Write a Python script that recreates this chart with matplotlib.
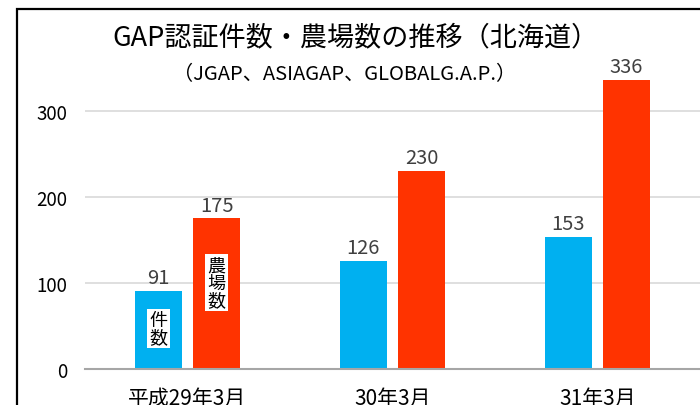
import numpy as np
import matplotlib.pyplot as plt
from matplotlib.patches import Rectangle

plt.rcParams['font.family'] = ['Noto Sans CJK JP', 'DejaVu Sans']

categories = ['平成29年3月', '30年3月', '31年3月']
kensu = [91, 126, 153]       # 件数
nojo = [175, 230, 336]       # 農場数
yticks = [0, 100, 200, 300]

blue = '#00B0F0'
red = '#FF3300'

fig = plt.figure(figsize=(7, 4.06), dpi=100)
ax = fig.add_axes([85 / 700, (406 - 370) / 406, 615 / 700, 310 / 406])

x = np.arange(len(categories))
w = 0.23
off = 0.142
b1 = ax.bar(x - off, kensu, w, color=blue, zorder=3)
b2 = ax.bar(x + off, nojo, w, color=red, zorder=3)

for rects, vals in ((b1, kensu), (b2, nojo)):
    for r, v in zip(rects, vals):
        ax.annotate(str(v), (r.get_x() + r.get_width() / 2, v), xytext=(0, 2),
                    textcoords='offset points', ha='center', va='bottom',
                    fontsize=14.5, color='#404040')

ax.set_xlim(-0.5, len(categories) - 0.5)
ax.set_ylim(0, 360)
ax.set_yticks(yticks)
ax.set_xticks(x)
ax.set_xticklabels(categories, fontsize=15)
ax.tick_params(axis='y', length=0, pad=13, labelsize=13.5)
ax.tick_params(axis='x', length=0, pad=13)
ax.grid(axis='y', color='#D9D9D9', linewidth=1.2, zorder=0)
for s in ('top', 'right', 'left'):
    ax.spines[s].set_visible(False)
ax.spines['bottom'].set_color('#A6A6A6')
ax.spines['bottom'].set_linewidth(1.5)
ax.spines['bottom'].set_zorder(4)

# in-bar labels
box = dict(facecolor='white', edgecolor='none', pad=1.5)
ax.text(x[0] - off, 47, '件\n数', ha='center', va='center', fontsize=13,
        linespacing=0.95, bbox=box, zorder=5)
ax.text(x[0] + off, 100, '農\n場\n数', ha='center', va='center', fontsize=13,
        linespacing=0.95, bbox=box, zorder=5)

fig.text(355 / 700, 1 - 38 / 406, 'GAP認証件数・農場数の推移（北海道）',
         ha='center', va='center', fontsize=19.5)
fig.text(345 / 700, 1 - 75 / 406, '（JGAP、ASIAGAP、GLOBALG.A.P.）',
         ha='center', va='center', fontsize=14.5)

# outer frame of the chart (cropped at right and bottom)
fig.patches.append(Rectangle((17 / 700, -0.5), 2, 1 - 9.5 / 406 + 0.5,
                             transform=fig.transFigure, fill=False,
                             edgecolor='black', linewidth=1.6))

fig.savefig('out.png', dpi=100)
